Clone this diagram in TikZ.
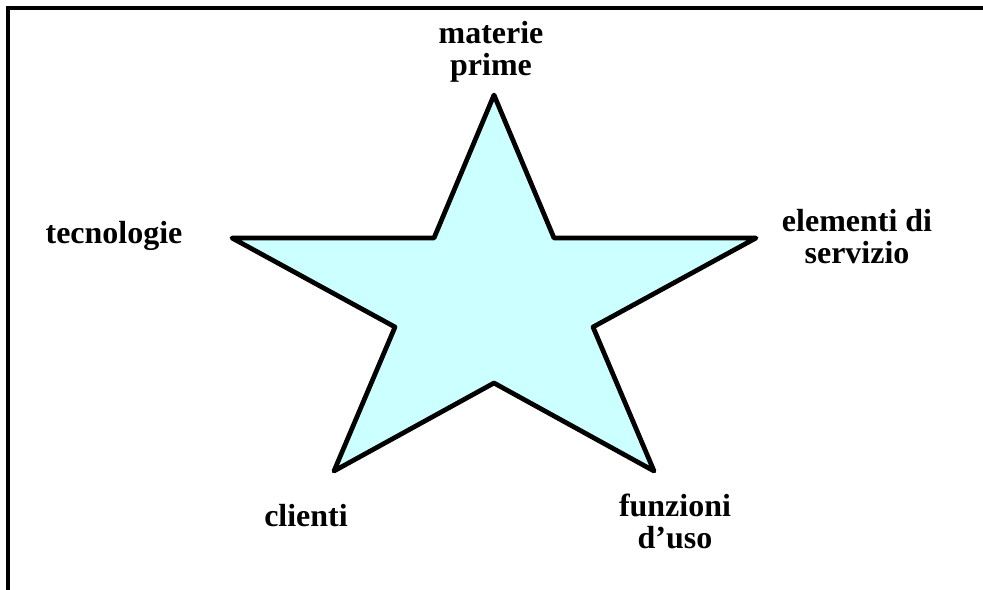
\documentclass[tikz,border=0pt]{standalone}
\usepackage{fontspec}
\setmainfont{Liberation Serif}
\usepackage{tikz}
\usetikzlibrary{positioning}
\definecolor{starfill}{RGB}{204,255,255}

\begin{document}
\begin{tikzpicture}[x=0.02cm, y=-0.02cm,
  lbl/.style={font=\fontsize{18.2}{18.2}\selectfont\bfseries, align=center,
              inner sep=0pt, anchor=base},
  frame/.style={line width=0.09cm},
  star/.style={line width=0.095cm, line join=round, fill=starfill},
]
\useasboundingbox (0,0) rectangle (983,589);

\draw[frame] (990,8) -- (8,8) -- (8,595);

% star points
\coordinate (top) at (494,95);
\coordinate (ur)  at (554,238);
\coordinate (rt)  at (756,238);
\coordinate (ri)  at (593,327);
\coordinate (br)  at (654,471);
\coordinate (bi)  at (494,383);
\coordinate (bl)  at (334,471);
\coordinate (li)  at (395,327);
\coordinate (lt)  at (232,238);
\coordinate (ul)  at (434,238);
\draw[star] (top) -- (ur) -- (rt) -- (ri) -- (br) -- (bi) -- (bl) -- (li) -- (lt) -- (ul) -- cycle;

% labels (anchor at last baseline)
\node[lbl] (mat) at (491,75)  {materie\\prime};
\node[lbl] (tec) at (114,243) {tecnologie};
\node[lbl] (ele) at (857,263) {elementi di\\servizio};
\node[lbl] (cli) at (306,526) {clienti};
\node[lbl] (fun) at (675,548) {funzioni\\d’uso};
\end{tikzpicture}
\end{document}
